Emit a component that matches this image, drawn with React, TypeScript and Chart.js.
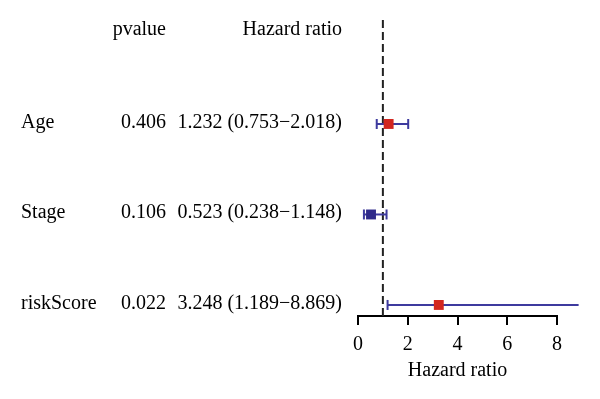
import React, { useEffect, useRef } from "react";
import { Chart, registerables } from "chart.js";

Chart.register(...registerables);

const variables = ["Age", "Stage", "riskScore"];
const pvalues = ["0.406", "0.106", "0.022"];
const hazardRatios = [1.232, 0.523, 3.248];
const lowerCI = [0.753, 0.238, 1.189];
const upperCI = [2.018, 1.148, 8.869];
const rowPositions = [3, 2, 1];
const headerRow = 4;
const xTicks = [0, 2, 4, 6, 8];

const FONT = '"Liberation Serif", "Times New Roman", serif';
const RED = "#d2261f";
const BLUE = "#2f2a8a";
const LINE_BLUE = "#3d3a9e";

const tablePlugin = {
  id: "forestTable",
  afterDraw(chart: any) {
    const ctx = chart.ctx;
    const y = chart.scales.y;
    const x = chart.scales.x;
    ctx.save();
    ctx.fillStyle = "#000";
    ctx.font = `20px ${FONT}`;
    ctx.textBaseline = "alphabetic";
    const hy = y.getPixelForValue(headerRow) + 2;
    ctx.textAlign = "right";
    ctx.fillText("pvalue", 166, hy);
    ctx.fillText("Hazard ratio", 342, hy);
    variables.forEach((v, i) => {
      const py = y.getPixelForValue(rowPositions[i]) + 4;
      ctx.textAlign = "left";
      ctx.fillText(v, 21, py);
      ctx.textAlign = "right";
      ctx.fillText(pvalues[i], 166, py);
      const txt = `${hazardRatios[i].toFixed(3)} (${lowerCI[i].toFixed(3)}\u2212${upperCI[i].toFixed(3)})`;
      ctx.fillText(txt, 342, py);
    });
    ctx.textAlign = "center";
    ctx.textBaseline = "middle";
    const cx = (x.getPixelForValue(xTicks[0]) + x.getPixelForValue(xTicks[xTicks.length - 1])) / 2;
    ctx.fillText("Hazard ratio", cx, 371);
    ctx.restore();
  },
};

export default function App() {
  const ref = useRef<HTMLCanvasElement | null>(null);
  useEffect(() => {
    if (!ref.current) return;
    const ciSets = variables.map((v, i) => ({
      type: "line" as const,
      label: v + " CI",
      data: [
        { x: lowerCI[i], y: rowPositions[i] },
        { x: upperCI[i], y: rowPositions[i] },
      ],
      borderColor: LINE_BLUE,
      backgroundColor: LINE_BLUE,
      borderWidth: 2,
      pointStyle: "line" as const,
      pointRotation: 90,
      pointRadius: 5,
      pointBorderWidth: 2,
      pointBorderColor: LINE_BLUE,
      clip: false as any,
      order: 2,
    }));
    const chart = new Chart(ref.current, {
      type: "scatter",
      data: {
        datasets: [
          {
            type: "line" as const,
            label: "ref",
            data: [
              { x: 1, y: 0.878 },
              { x: 1, y: 4.149 },
            ],
            borderColor: "#222",
            borderWidth: 2,
            borderDash: [8, 4],
            pointRadius: 0,
            order: 3,
          },
          ...ciSets,
          {
            type: "scatter" as const,
            label: "HR",
            data: hazardRatios.map((h, i) => ({ x: h, y: rowPositions[i] })),
            pointStyle: "rect",
            pointRadius: 7,
            pointBackgroundColor: hazardRatios.map((h) => (h > 1 ? RED : BLUE)),
            pointBorderWidth: 0,
            clip: false as any,
            order: 1,
          },
        ],
      },
      options: {
        animation: false,
        responsive: true,
        maintainAspectRatio: false,
        layout: { padding: { left: 358, right: 43, top: 20, bottom: 0 } },
        plugins: { legend: { display: false }, tooltip: { enabled: false } },
        scales: {
          x: {
            type: "linear",
            min: 0,
            max: 8,
            afterBuildTicks: (axis: any) => {
              axis.ticks = xTicks.map((v) => ({ value: v }));
            },
            afterFit: (axis: any) => {
              axis.height = 83;
            },
            ticks: { color: "#000", font: { family: FONT, size: 20 }, padding: 8 },
            grid: { drawOnChartArea: false, drawTicks: true, tickLength: 9, color: "#000", lineWidth: 2 },
            border: { display: true, color: "#000", width: 2 },
          },
          y: {
            type: "linear",
            display: false,
            min: 0.878,
            max: 4.149,
          },
        },
      },
      plugins: [tablePlugin],
    });
    return () => chart.destroy();
  }, []);
  return (
    <div style={{ position: "absolute", left: 0, top: 0, width: 600, height: 399, background: "#fff" }}>
      <canvas ref={ref} />
    </div>
  );
}
